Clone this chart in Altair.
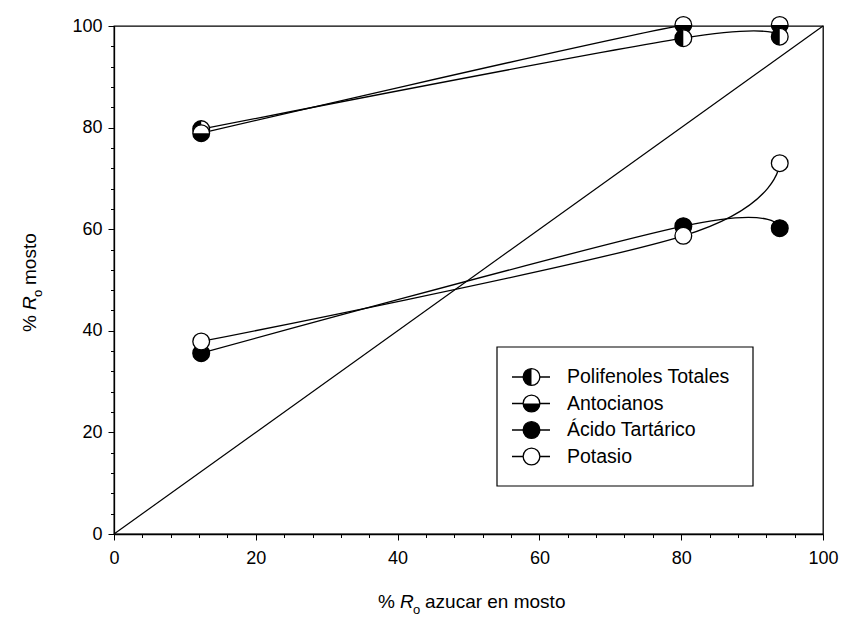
import altair as alt
import pandas as pd

# ---------------- data ----------------
x_vals = [12.3, 80.3, 93.9]
polifenoles = [79.7, 97.6, 97.9]
antocianos = [78.9, 100.2, 100.2]
acido = [35.6, 60.6, 60.2]
potasio = [37.9, 58.7, 73.0]
series_names = ["Polifenoles Totales", "Antocianos", "Ácido Tartárico", "Potasio"]
diag_x = [0, 100]
diag_y = [0, 100]
tick_values = [0, 4, 8, 12, 16, 20, 24, 28, 32, 36, 40, 44, 48, 52, 56, 60,
               64, 68, 72, 76, 80, 84, 88, 92, 96, 100]

# ---------------- layout ----------------
W, H = 709, 508
FONT = "Liberation Sans"
MS = 280  # marker size

CIRCLE = "M-1,0A1,1 0 1,0 1,0A1,1 0 1,0 -1,0Z"
LEFT_HALF = "M0,-1A1,1 0 0,0 0,1Z"
BOTTOM_HALF = "M-1,0A1,1 0 0,0 1,0Z"

styles = {
    "Polifenoles Totales": ("white", LEFT_HALF),
    "Antocianos": ("white", BOTTOM_HALF),
    "Ácido Tartárico": ("black", None),
    "Potasio": ("white", None),
}

values = {
    "Polifenoles Totales": polifenoles,
    "Antocianos": antocianos,
    "Ácido Tartárico": acido,
    "Potasio": potasio,
}
rows = []
for name in series_names:
    for xv, yv in zip(x_vals, values[name]):
        rows.append({"x": xv, "y": yv, "serie": name})
df = pd.DataFrame(rows)
diag = pd.DataFrame({"x": diag_x, "y": diag_y})
one = pd.DataFrame({"k": [0]})

major_test = "datum.value % 20 === 0"
axis_common = dict(
    values=tick_values,
    labelExpr=f"{major_test} ? datum.label : ''",
    tickSize={"condition": {"test": major_test, "value": 6}, "value": 3.5},
    title=None,
    grid=False,
    labelFontSize=18,
    labelFont=FONT,
    labelColor="black",
    domainColor="black",
    tickColor="black",
    tickWidth=1,
    domainWidth=1.3,
    labelFlush=False,
)
xenc = alt.X("x:Q", scale=alt.Scale(domain=[0, 100], nice=False),
             axis=alt.Axis(labelPadding=9, **axis_common))
yenc = alt.Y("y:Q", scale=alt.Scale(domain=[0, 100], nice=False),
             axis=alt.Axis(labelPadding=6, **axis_common))

layers = []
layers.append(alt.Chart(diag).mark_line(color="black", strokeWidth=1.2).encode(x=xenc, y=yenc))
layers.append(
    alt.Chart(df).mark_line(interpolate="cardinal", color="black", strokeWidth=1.3, clip=True)
    .encode(x=xenc, y=yenc, detail="serie:N")
)


def marker_layers(name, flt=None):
    fill, half = styles[name]
    base = alt.Chart(df).transform_filter(alt.datum.serie == name)
    if flt is not None:
        base = base.transform_filter(flt)
    out = [base.mark_point(shape=CIRCLE, filled=True, fill=fill, stroke="black",
                           strokeWidth=1.3, size=MS, opacity=1).encode(x=xenc, y=yenc)]
    if half is not None:
        out.append(base.mark_point(shape=half, filled=True, fill="black", strokeWidth=0,
                                   size=MS, opacity=1).encode(x=xenc, y=yenc))
    return out


layers += marker_layers("Polifenoles Totales", alt.datum.x < 50)
layers += marker_layers("Antocianos")
layers += marker_layers("Polifenoles Totales", alt.datum.x > 50)
layers += marker_layers("Ácido Tartárico")
layers += marker_layers("Potasio")

# ---------------- legend ----------------
LX0, LX1, LY0, LY1 = 383, 639, 321, 460
layers.append(alt.Chart(one).mark_rect(fill="white", stroke="black", strokeWidth=1.2).encode(
    x=alt.value(LX0), x2=alt.value(LX1), y=alt.value(LY0), y2=alt.value(LY1)))
row_y = [351, 377.5, 404, 430.5]
for name, ry in zip(series_names, row_y):
    fill, half = styles[name]
    layers.append(alt.Chart(one).mark_rule(color="black", strokeWidth=1.3).encode(
        x=alt.value(398), x2=alt.value(436), y=alt.value(ry)))
    layers.append(alt.Chart(one).mark_point(shape=CIRCLE, filled=True, fill=fill, stroke="black",
                                            strokeWidth=1.3, size=MS, opacity=1).encode(
        x=alt.value(417.5), y=alt.value(ry)))
    if half is not None:
        layers.append(alt.Chart(one).mark_point(shape=half, filled=True, fill="black",
                                                strokeWidth=0, size=MS, opacity=1).encode(
            x=alt.value(417.5), y=alt.value(ry)))
    layers.append(alt.Chart(pd.DataFrame({"t": [name]})).mark_text(
        align="left", baseline="middle", font=FONT, fontSize=19.5, color="black").encode(
        x=alt.value(453), y=alt.value(ry), text="t:N"))


# ---------------- axis titles (mixed styles) ----------------
def piece(txt, x, y, size=19, style="normal", angle=0):
    return alt.Chart(pd.DataFrame({"t": [txt]})).mark_text(
        align="left", baseline="alphabetic", font=FONT, fontSize=size, fontStyle=style,
        color="black", angle=angle).encode(x=alt.value(x), y=alt.value(y), text="t:N")


# x title
tx0, tyb = 264, 582
layers += [
    piece("%", tx0, tyb),
    piece("R", tx0 + 22, tyb, style="italic"),
    piece("o", tx0 + 35, tyb + 6, size=13),
    piece("azucar en mosto", tx0 + 47, tyb),
]
# y title (rotated)
yx, yy0 = -78, 306
layers += [
    piece("%", yx, yy0, angle=270),
    piece("R", yx, yy0 - 22, style="italic", angle=270),
    piece("o", yx + 6, yy0 - 35, size=13, angle=270),
    piece("mosto", yx, yy0 - 47, angle=270),
]

chart = alt.layer(*layers).properties(
    width=W, height=H,
    autosize=alt.AutoSizeParams(type="none"),
    padding={"left": 114, "top": 26, "right": 20, "bottom": 85},
).configure_view(stroke="black", strokeWidth=1.3)

chart.save("out.html", embed_options={"renderer": "svg", "actions": False})
